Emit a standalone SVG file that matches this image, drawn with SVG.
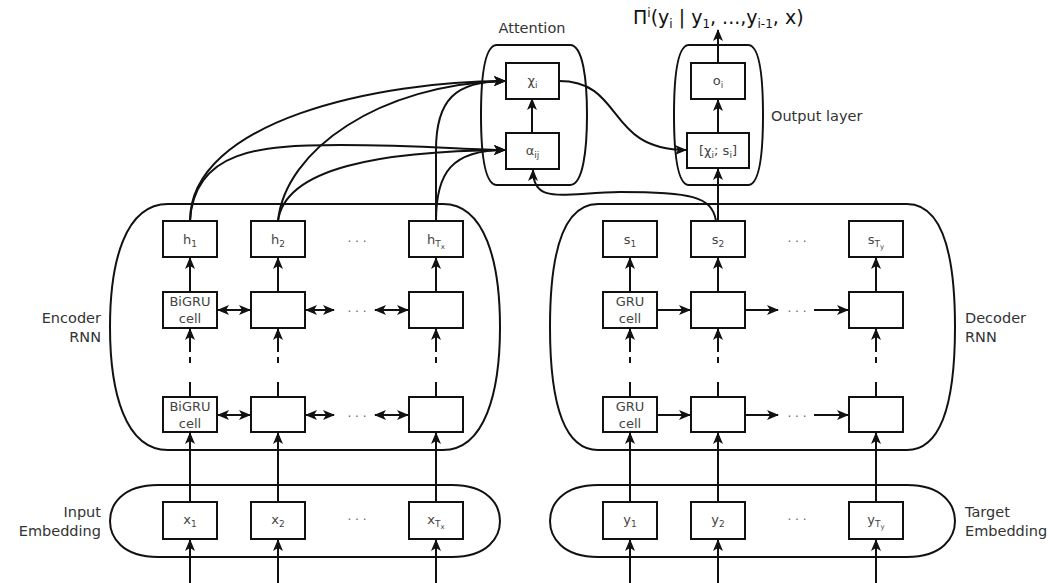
<svg xmlns="http://www.w3.org/2000/svg" width="1051" height="583" viewBox="0 0 1051 583">
<style>
.cont{fill:none;stroke:#111;stroke-width:2}
.box{fill:#fff;stroke:#111;stroke-width:2}
.ln{fill:none;stroke:#111;stroke-width:2}
.arr{marker-end:url(#ah)}
.dbl{marker-start:url(#ah);marker-end:url(#ah)}
.dash{stroke-dasharray:15 19 6 5 60}
.lbl{font-family:"DejaVu Sans",Verdana,sans-serif;font-size:14.5px;fill:#333}
.bt{font-family:"DejaVu Sans",Verdana,sans-serif;font-size:13px;fill:#444;text-anchor:middle}
.dots{font-family:"DejaVu Sans",sans-serif;font-size:12px;fill:#666;text-anchor:middle}
.sub{font-size:9px}
.ssub{font-size:7px}
</style>
<defs>
<marker id="ah" viewBox="0 0 12 10" refX="11" refY="5" markerWidth="12" markerHeight="10" markerUnits="userSpaceOnUse" orient="auto-start-reverse"><path d="M0,0 L12,5 L0,10 L3,5 Z" fill="#111"/></marker>
</defs>

<g id="containers">
<path id="encoder-rnn" class="cont" d="M168,204 H443 C485,204 500,262 500,327 C500,392 485,450 443,450 H168 C125,450 110,392 110,327 C110,262 125,204 168,204 Z"/>
<path id="decoder-rnn" class="cont" d="M598,204 H907 C945,204 955,262 955,327 C955,392 945,450 907,450 H598 C560,450 550,392 550,327 C550,262 560,204 598,204 Z"/>
<path id="input-embedding" class="cont" d="M158,485 H452 C488,485 500,505 500,521 C500,537 488,557 452,557 H158 C122,557 110,537 110,521 C110,505 122,485 158,485 Z"/>
<path id="target-embedding" class="cont" d="M598,485 H907 C943,485 955,505 955,521 C955,537 943,557 907,557 H598 C562,557 550,537 550,521 C550,505 562,485 598,485 Z"/>
<path id="attention" class="cont" d="M497,45 H570 C583,45 587,80 587,115 C587,150 583,185 570,185 H497 C484,185 481,150 481,115 C481,80 484,45 497,45 Z"/>
<path id="output-layer" class="cont" d="M689,45 H748 C760,45 763,80 763,115 C763,150 760,185 748,185 H689 C677,185 674,150 674,115 C674,80 677,45 689,45 Z"/>
</g>

<g id="connectors">
<!-- encoder -> attention -->
<path class="ln arr" d="M190,221 C190,120 380,81 505,81"/>
<path class="ln arr" d="M190,221 C194,150 260,145 340,145 C420,145 470,150 505,150"/>
<path class="ln arr" d="M278,221 C285,150 380,84 505,81"/>
<path class="ln arr" d="M278,221 C285,168 380,151 505,150"/>
<path class="ln arr" d="M436,221 L436,150 C436,100 455,81 505,81"/>
<path class="ln arr" d="M436,221 C436,172 452,150 505,150"/>
<!-- attention internals -->
<path class="ln arr" d="M532,133 V99"/>
<path class="ln arr" d="M559,81 C625,81 605,150 686,150"/>
<path class="ln arr" d="M716,221 C712,196 690,192 620,192 C562,193 533,205 533,170"/>
<!-- output -->
<path class="ln arr" d="M718,221 V169"/>
<path class="ln arr" d="M718,133 V100"/>
<path class="ln arr" d="M718,63 V30"/>
<!-- encoder verticals -->
<path class="ln arr" d="M190,292 V258"/>
<path class="ln arr" d="M278,292 V258"/>
<path class="ln arr" d="M436,292 V258"/>
<path class="ln arr dash" d="M190,397 V329"/>
<path class="ln arr dash" d="M278,397 V329"/>
<path class="ln arr dash" d="M436,397 V329"/>
<path class="ln arr" d="M190,502 V433"/>
<path class="ln arr" d="M278,502 V433"/>
<path class="ln arr" d="M436,502 V433"/>
<path class="ln arr" d="M190,583 V540"/>
<path class="ln arr" d="M278,583 V540"/>
<path class="ln arr" d="M436,583 V540"/>
<!-- encoder horizontals -->
<path class="ln dbl" d="M218,310 H250"/>
<path class="ln dbl" d="M306,310 H334"/>
<path class="ln dbl" d="M375,310 H408"/>
<path class="ln dbl" d="M218,415 H250"/>
<path class="ln dbl" d="M306,415 H334"/>
<path class="ln dbl" d="M375,415 H408"/>
<!-- decoder verticals -->
<path class="ln arr" d="M630,292 V258"/>
<path class="ln arr" d="M718,292 V258"/>
<path class="ln arr" d="M876,292 V258"/>
<path class="ln arr dash" d="M630,397 V329"/>
<path class="ln arr dash" d="M718,397 V329"/>
<path class="ln arr dash" d="M876,397 V329"/>
<path class="ln arr" d="M630,502 V433"/>
<path class="ln arr" d="M718,502 V433"/>
<path class="ln arr" d="M876,502 V433"/>
<path class="ln arr" d="M630,583 V540"/>
<path class="ln arr" d="M718,583 V540"/>
<path class="ln arr" d="M876,583 V540"/>
<!-- decoder horizontals -->
<path class="ln arr" d="M657,310 H690"/>
<path class="ln arr" d="M745,310 H778"/>
<path class="ln arr" d="M814,310 H848"/>
<path class="ln arr" d="M657,415 H690"/>
<path class="ln arr" d="M745,415 H778"/>
<path class="ln arr" d="M814,415 H848"/>
</g>

<g id="attention-nodes">
<g id="chi"><rect class="box" x="506" y="63" width="53" height="36"/><text class="bt" x="532.5" y="85">χ<tspan class="sub" dy="3">i</tspan></text></g>
<g id="alpha"><rect class="box" x="506" y="133" width="53" height="36"/><text class="bt" x="532.5" y="155">α<tspan class="sub" dy="3">ij</tspan></text></g>
</g>
<g id="output-nodes">
<g id="o"><rect class="box" x="691" y="63" width="54" height="36"/><text class="bt" x="718" y="85">o<tspan class="sub" dy="3">i</tspan></text></g>
<g id="concat"><rect class="box" x="687" y="133" width="62" height="35"/><text class="bt" x="718" y="155">[χ<tspan class="sub" dy="3">i</tspan><tspan dy="-3">; s</tspan><tspan class="sub" dy="3">i</tspan><tspan dy="-3">]</tspan></text></g>
</g>

<g id="encoder-nodes">
<g id="h1"><rect class="box" x="163" y="221" width="54" height="36"/><text class="bt" x="190" y="244">h<tspan class="sub" dy="3">1</tspan></text></g>
<g id="h2"><rect class="box" x="251" y="221" width="54" height="36"/><text class="bt" x="278" y="244">h<tspan class="sub" dy="3">2</tspan></text></g>
<g id="hTx"><rect class="box" x="409" y="221" width="54" height="36"/><text class="bt" x="436" y="244">h<tspan class="sub" dy="3">T</tspan><tspan class="ssub" dy="2">x</tspan></text></g>
<g id="enc-r1c1"><rect class="box" x="163" y="292" width="54" height="36"/><text class="bt" x="190" y="306">BiGRU</text><text class="bt" x="190" y="323">cell</text></g>
<g id="enc-r1c2"><rect class="box" x="251" y="292" width="54" height="36"/></g>
<g id="enc-r1c3"><rect class="box" x="409" y="292" width="54" height="36"/></g>
<g id="enc-r2c1"><rect class="box" x="163" y="397" width="54" height="35"/><text class="bt" x="190" y="411">BiGRU</text><text class="bt" x="190" y="428">cell</text></g>
<g id="enc-r2c2"><rect class="box" x="251" y="397" width="54" height="35"/></g>
<g id="enc-r2c3"><rect class="box" x="409" y="397" width="54" height="35"/></g>
<g id="x1"><rect class="box" x="163" y="502" width="54" height="37"/><text class="bt" x="190" y="524">x<tspan class="sub" dy="3">1</tspan></text></g>
<g id="x2"><rect class="box" x="251" y="502" width="54" height="37"/><text class="bt" x="278" y="524">x<tspan class="sub" dy="3">2</tspan></text></g>
<g id="xTx"><rect class="box" x="409" y="502" width="54" height="37"/><text class="bt" x="436" y="524">x<tspan class="sub" dy="3">T</tspan><tspan class="ssub" dy="2">x</tspan></text></g>
<text class="dots" x="357" y="246">· · ·</text>
<text class="dots" x="357" y="316">· · ·</text>
<text class="dots" x="357" y="421">· · ·</text>
<text class="dots" x="357" y="524">· · ·</text>
</g>

<g id="decoder-nodes">
<g id="s1"><rect class="box" x="603" y="221" width="54" height="36"/><text class="bt" x="630" y="244">s<tspan class="sub" dy="3">1</tspan></text></g>
<g id="s2"><rect class="box" x="691" y="221" width="54" height="36"/><text class="bt" x="718" y="244">s<tspan class="sub" dy="3">2</tspan></text></g>
<g id="sTy"><rect class="box" x="849" y="221" width="54" height="36"/><text class="bt" x="876" y="244">s<tspan class="sub" dy="3">T</tspan><tspan class="ssub" dy="2">y</tspan></text></g>
<g id="dec-r1c1"><rect class="box" x="603" y="292" width="54" height="36"/><text class="bt" x="630" y="306">GRU</text><text class="bt" x="630" y="323">cell</text></g>
<g id="dec-r1c2"><rect class="box" x="691" y="292" width="54" height="36"/></g>
<g id="dec-r1c3"><rect class="box" x="849" y="292" width="54" height="36"/></g>
<g id="dec-r2c1"><rect class="box" x="603" y="397" width="54" height="35"/><text class="bt" x="630" y="411">GRU</text><text class="bt" x="630" y="428">cell</text></g>
<g id="dec-r2c2"><rect class="box" x="691" y="397" width="54" height="35"/></g>
<g id="dec-r2c3"><rect class="box" x="849" y="397" width="54" height="35"/></g>
<g id="y1"><rect class="box" x="603" y="502" width="54" height="37"/><text class="bt" x="630" y="524">y<tspan class="sub" dy="3">1</tspan></text></g>
<g id="y2"><rect class="box" x="691" y="502" width="54" height="37"/><text class="bt" x="718" y="524">y<tspan class="sub" dy="3">2</tspan></text></g>
<g id="yTy"><rect class="box" x="849" y="502" width="54" height="37"/><text class="bt" x="876" y="524">y<tspan class="sub" dy="3">T</tspan><tspan class="ssub" dy="2">y</tspan></text></g>
<text class="dots" x="797" y="246">· · ·</text>
<text class="dots" x="797" y="316">· · ·</text>
<text class="dots" x="797" y="421">· · ·</text>
<text class="dots" x="797" y="524">· · ·</text>
</g>

<g id="labels">
<text class="lbl" x="532" y="33" text-anchor="middle">Attention</text>
<text class="lbl" x="771" y="121">Output layer</text>
<text class="lbl" x="101" y="323" text-anchor="end">Encoder</text>
<text class="lbl" x="101" y="342" text-anchor="end">RNN</text>
<text class="lbl" x="965" y="323">Decoder</text>
<text class="lbl" x="965" y="342">RNN</text>
<text class="lbl" x="101" y="517" text-anchor="end">Input</text>
<text class="lbl" x="101" y="536" text-anchor="end">Embedding</text>
<text class="lbl" x="965" y="517">Target</text>
<text class="lbl" x="965" y="536">Embedding</text>
<text id="formula" x="633" y="24" style="font-family:'DejaVu Sans',Verdana,sans-serif;font-size:19px;fill:#111">Π<tspan font-size="12" dy="-7">i</tspan><tspan dy="7">(y</tspan><tspan font-size="12" dy="4">i</tspan><tspan dy="-4"> | y</tspan><tspan font-size="12" dy="4">1</tspan><tspan dy="-4">, ...,y</tspan><tspan font-size="12" dy="4">i-1</tspan><tspan dy="-4">, x)</tspan></text>
</g>
</svg>
